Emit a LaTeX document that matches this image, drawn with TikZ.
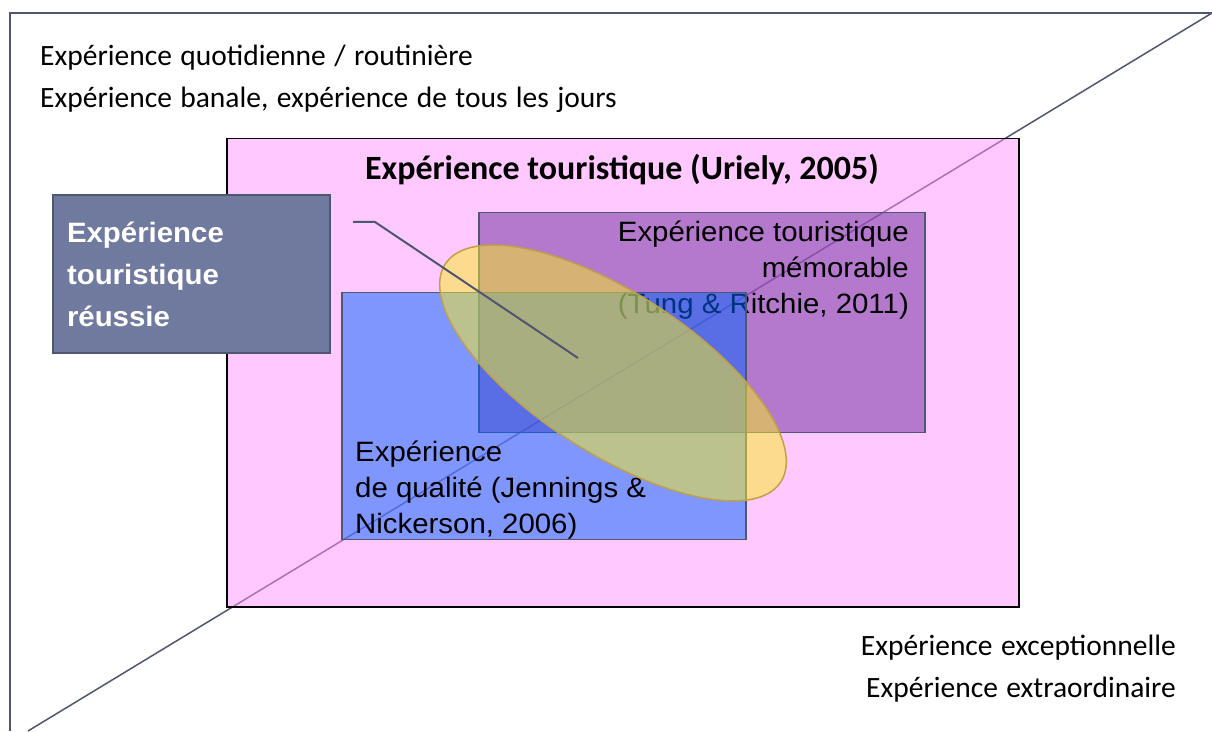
\documentclass[tikz,border=0pt]{standalone}
\usepackage{fontspec}
\setmainfont[FakeStretch=1.05]{Liberation Sans}
\newfontfamily\calibri{Carlito}
\usetikzlibrary{shapes,arrows,positioning}
\definecolor{slate}{RGB}{78,86,112}
\definecolor{pinkzone}{RGB}{255,145,255}
\definecolor{purplezone}{RGB}{112,48,160}
\definecolor{bluezone}{RGB}{0,102,255}
\definecolor{yellowzone}{RGB}{250,238,30}
\definecolor{goldline}{RGB}{192,160,72}
\definecolor{calloutfill}{RGB}{112,122,158}
\newcommand{\cornerfont}{\calibri\fontsize{29.5}{42}\selectfont
    \spaceskip=8.4pt plus 1pt\relax}
\tikzstyle{zone} = [rectangle, draw=slate, line width=1.5pt, inner sep=0pt,
    anchor=north west]
\tikzstyle{uriely} = [zone, draw=black, fill=pinkzone, fill opacity=0.5]
\tikzstyle{memorable} = [zone, fill=purplezone, fill opacity=0.52]
\tikzstyle{quality} = [zone, fill=bluezone, fill opacity=0.5]
\tikzstyle{success} = [ellipse, draw=goldline, line width=1.5pt,
    fill=yellowzone, fill opacity=0.5]
\tikzstyle{reussie} = [rectangle, draw=slate, line width=2pt, fill=calloutfill,
    anchor=north west, text=white, align=left, inner sep=14pt,
    font=\bfseries\fontsize{28}{42}\selectfont]
\tikzstyle{boxtext} = [inner sep=0pt, font=\fontsize{28}{36}\selectfont]
\tikzstyle{corner} = [inner sep=0pt, font=\cornerfont]
\tikzstyle{line} = [draw=slate, line width=2pt]

\begin{document}
\begin{tikzpicture}[x=1pt, y=1pt]
    \useasboundingbox (0,0) rectangle (1212,731);
    % Frame and diagonal
    \coordinate (framebl) at (10,0);
    \coordinate (frametl) at (10,718);
    \coordinate (frametr) at (1212,718);
    \coordinate (diagend) at (28,0);
    \draw [line, line width=1.5pt] (diagend) -- (frametr);
    \draw [line] (framebl) -- (frametl) -- (frametr);

    % Place nodes
    \node [corner, anchor=base west] (routine) at (40,665)
        {Expérience quotidienne / routinière};
    \node [corner, anchor=base west] (banal) at ([yshift=-42pt]routine.base west)
        {Expérience banale, expérience de tous les jours};
    \node [corner, anchor=base east] (exception) at (1176,76)
        {Expérience exceptionnelle};
    \node [corner, anchor=base east] (extra) at ([yshift=-42pt]exception.base east)
        {Expérience extraordinaire};

    \node [uriely, minimum width=792, minimum height=468] (tourist) at (226,593) {};
    \node [inner sep=0pt, font=\calibri\bfseries\fontsize{34}{40}\selectfont]
        (touristtitle) at (622,561) {Expérience touristique (Uriely, 2005)};
    \node [memorable, minimum width=446, minimum height=220] (memo) at (478,519) {};
    \node [boxtext, align=right, anchor=north east] (memotext) at (909,510)
        {Expérience touristique\\mémorable\\(Tung \& Ritchie, 2011)};
    \node [quality, minimum width=404, minimum height=247] (qual) at (341,439) {};
    \node [boxtext, align=left, anchor=south west] (qualtext) at (355,192)
        {Expérience\\de qualité (Jennings \&\\Nickerson, 2006)};
    \node [success, rotate=-33, minimum width=400, minimum height=160]
        (succes) at (613,358) {};

    \node [reussie, minimum width=277, minimum height=158, text width=249]
        (reussite) at (52,537) {Expérience\\touristique\\réussie};
    \coordinate (pointerstart) at (353,509);
    \coordinate (pointerknee) at (375,509);
    \coordinate (pointertip) at ([shift={(-35,15)}]succes.center);
    \path [line] (pointerstart) -- (pointerknee) -- (pointertip);
\end{tikzpicture}
\end{document}
